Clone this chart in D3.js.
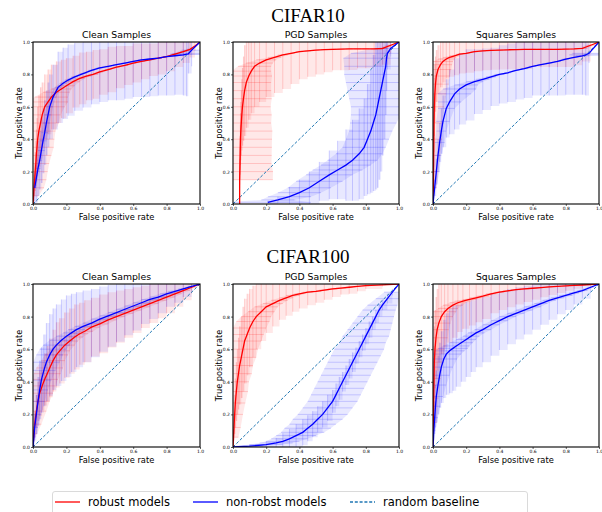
<!DOCTYPE html>
<html><head><meta charset="utf-8">
<script src="https://cdn.jsdelivr.net/npm/d3@7"></script>
<style>body{margin:0;background:#fff} svg{display:block}</style>
</head><body><svg id="c" width="602" height="512"></svg>
<script>
// ---- data: each point is [false positive rate, true positive rate, fpr std, tpr std]
const datasets = ["CIFAR10", "CIFAR100"];
const sampleTypes = ["Clean Samples", "PGD Samples", "Squares Samples"];
const seriesNames = ["robust models", "non-robst models", "random baseline"];
const tickValues = [0.0, 0.2, 0.4, 0.6, 0.8, 1.0];

const cifar10CleanRobust = [
 [0,0,0,0],[0.003,0.05,0.03,0.05],[0.006,0.1,0.06,0.08],[0.01,0.15,0.07,0.1],[0.013,0.2,0.075,0.12],
 [0.017,0.25,0.08,0.14],[0.02,0.3,0.09,0.16],[0.024,0.35,0.1,0.18],[0.028,0.4,0.1,0.2],[0.035,0.45,0.1,0.22],
 [0.045,0.5,0.11,0.22],[0.055,0.55,0.11,0.2],[0.07,0.6,0.12,0.2],[0.09,0.63,0.12,0.2],[0.11,0.66,0.1,0.2],
 [0.14,0.69,0.08,0.19],[0.17,0.71,0.06,0.18],[0.2,0.73,0.05,0.17],[0.24,0.755,0.04,0.16],[0.28,0.775,0.03,0.16],
 [0.32,0.79,0.03,0.15],[0.36,0.8,0.03,0.15],[0.4,0.815,0.02,0.14],[0.45,0.83,0.02,0.14],[0.5,0.845,0.02,0.13],
 [0.55,0.855,0.02,0.12],[0.6,0.87,0.02,0.12],[0.65,0.88,0.02,0.11],[0.7,0.89,0.02,0.1],[0.75,0.9,0.02,0.1],
 [0.8,0.91,0.02,0.09],[0.85,0.925,0.02,0.08],[0.9,0.94,0.02,0.07],[0.94,0.955,0.02,0.05],[0.97,0.975,0.01,0.03],[1,1,0,0]
];
const cifar10CleanNonRobust = [
 [0.01,0.1,0.01,0.1],[0.02,0.16,0.01,0.15],[0.03,0.22,0.015,0.17],[0.04,0.27,0.015,0.18],[0.05,0.33,0.02,0.2],
 [0.06,0.39,0.02,0.2],[0.07,0.44,0.02,0.2],[0.08,0.5,0.02,0.2],[0.09,0.55,0.02,0.2],[0.1,0.6,0.02,0.2],
 [0.12,0.66,0.02,0.2],[0.15,0.72,0.02,0.22],[0.18,0.745,0.02,0.22],[0.21,0.765,0.02,0.22],[0.25,0.785,0.02,0.21],
 [0.3,0.805,0.02,0.21],[0.35,0.825,0.02,0.21],[0.4,0.84,0.02,0.21],[0.45,0.85,0.02,0.21],[0.5,0.86,0.02,0.22],
 [0.55,0.87,0.02,0.22],[0.6,0.88,0.02,0.22],[0.65,0.89,0.02,0.23],[0.7,0.895,0.02,0.23],[0.75,0.9,0.02,0.23],
 [0.8,0.91,0.02,0.24],[0.85,0.915,0.02,0.24],[0.9,0.92,0.02,0.25],[0.92,0.925,0.1,0.26],[0.93,0.926,0.1,0.12],
 [0.95,0.95,0.06,0.1],[1,1,0,0]
];
const cifar10PgdRobust = [
 [0.04,0,0,0],[0.04,0.15,0.2,0.05],[0.041,0.2,0.2,0.08],[0.042,0.25,0.19,0.1],[0.043,0.3,0.19,0.12],
 [0.044,0.35,0.19,0.14],[0.045,0.4,0.19,0.16],[0.047,0.45,0.19,0.18],[0.05,0.5,0.18,0.2],[0.053,0.55,0.18,0.22],
 [0.057,0.6,0.17,0.24],[0.063,0.65,0.17,0.26],[0.07,0.7,0.16,0.28],[0.08,0.75,0.15,0.28],[0.095,0.79,0.14,0.27],
 [0.11,0.82,0.12,0.26],[0.13,0.85,0.1,0.25],[0.16,0.87,0.08,0.24],[0.2,0.89,0.06,0.23],[0.25,0.905,0.04,0.22],
 [0.3,0.92,0.03,0.21],[0.35,0.93,0.02,0.19],[0.4,0.94,0.02,0.17],[0.45,0.945,0.02,0.16],[0.5,0.95,0.02,0.15],
 [0.55,0.953,0.02,0.14],[0.6,0.955,0.02,0.13],[0.65,0.956,0.02,0.13],[0.7,0.957,0.02,0.13],[0.75,0.958,0.02,0.12],
 [0.8,0.958,0.02,0.12],[0.85,0.958,0.02,0.11],[0.9,0.96,0.03,0.1],[0.95,0.98,0.03,0.05],[1,1,0,0]
];
const cifar10PgdNonRobust = [
 [0.21,0.01,0.26,0.01],[0.27,0.025,0.1,0.02],[0.34,0.045,0.13,0.06],[0.4,0.07,0.13,0.08],[0.46,0.1,0.13,0.1],
 [0.52,0.14,0.14,0.12],[0.58,0.18,0.14,0.15],[0.63,0.21,0.15,0.18],[0.68,0.24,0.15,0.22],[0.72,0.27,0.15,0.25],
 [0.76,0.31,0.14,0.28],[0.79,0.35,0.13,0.3],[0.81,0.4,0.13,0.34],[0.83,0.45,0.13,0.38],[0.845,0.5,0.14,0.42],
 [0.86,0.55,0.15,0.46],[0.87,0.6,0.16,0.5],[0.88,0.65,0.18,0.5],[0.89,0.7,0.2,0.5],[0.9,0.75,0.22,0.45],
 [0.91,0.8,0.24,0.4],[0.92,0.85,0.25,0.3],[0.925,0.9,0.26,0.2],[0.93,0.93,0.22,0.1],[0.95,0.96,0.1,0.05],[1,1,0,0]
];
const cifar10SquaresRobust = [
 [0,0,0,0],[0.002,0.1,0.02,0.08],[0.003,0.2,0.03,0.12],[0.004,0.3,0.04,0.15],[0.005,0.4,0.05,0.17],
 [0.006,0.5,0.05,0.18],[0.008,0.6,0.06,0.18],[0.011,0.68,0.07,0.18],[0.015,0.74,0.08,0.17],[0.02,0.79,0.08,0.16],
 [0.03,0.83,0.08,0.15],[0.045,0.86,0.07,0.14],[0.06,0.88,0.06,0.13],[0.08,0.895,0.05,0.12],[0.1,0.905,0.04,0.12],
 [0.13,0.915,0.03,0.12],[0.16,0.925,0.02,0.12],[0.2,0.93,0.02,0.12],[0.25,0.94,0.02,0.12],[0.3,0.945,0.02,0.12],
 [0.35,0.948,0.02,0.12],[0.4,0.95,0.02,0.12],[0.45,0.952,0.02,0.12],[0.5,0.953,0.02,0.12],[0.55,0.954,0.02,0.12],
 [0.6,0.955,0.02,0.11],[0.65,0.955,0.02,0.11],[0.7,0.955,0.02,0.11],[0.75,0.955,0.02,0.11],[0.8,0.956,0.02,0.11],
 [0.85,0.957,0.02,0.1],[0.9,0.96,0.03,0.08],[0.95,0.98,0.03,0.05],[1,1,0,0]
];
const cifar10SquaresNonRobust = [
 [0,0,0,0],[0.01,0.1,0.01,0.05],[0.02,0.2,0.02,0.08],[0.03,0.3,0.02,0.1],[0.04,0.38,0.03,0.12],
 [0.05,0.45,0.03,0.14],[0.06,0.51,0.04,0.16],[0.08,0.59,0.05,0.18],[0.1,0.63,0.07,0.2],[0.13,0.68,0.1,0.22],
 [0.16,0.71,0.1,0.22],[0.2,0.735,0.07,0.22],[0.25,0.755,0.05,0.2],[0.3,0.77,0.04,0.19],[0.35,0.785,0.03,0.18],
 [0.4,0.8,0.03,0.18],[0.45,0.81,0.02,0.18],[0.5,0.825,0.02,0.18],[0.55,0.835,0.02,0.18],[0.6,0.85,0.02,0.18],
 [0.65,0.86,0.02,0.19],[0.7,0.87,0.02,0.2],[0.75,0.88,0.02,0.21],[0.8,0.895,0.02,0.22],[0.85,0.905,0.02,0.23],
 [0.9,0.915,0.04,0.24],[0.92,0.92,0.1,0.25],[0.94,0.93,0.1,0.06],[1,1,0,0]
];
const cifar100CleanRobust = [
 [0,0,0,0],[0.005,0.08,0.02,0.05],[0.01,0.14,0.04,0.08],[0.02,0.22,0.06,0.1],[0.03,0.28,0.07,0.12],
 [0.04,0.33,0.08,0.14],[0.055,0.375,0.08,0.15],[0.07,0.415,0.08,0.16],[0.085,0.45,0.08,0.17],[0.1,0.485,0.08,0.18],
 [0.12,0.53,0.07,0.19],[0.14,0.565,0.07,0.2],[0.16,0.59,0.06,0.2],[0.19,0.625,0.06,0.2],[0.22,0.65,0.05,0.2],
 [0.25,0.675,0.05,0.2],[0.28,0.695,0.05,0.19],[0.31,0.71,0.05,0.19],[0.35,0.735,0.05,0.18],[0.4,0.755,0.05,0.18],
 [0.45,0.78,0.05,0.17],[0.5,0.8,0.05,0.16],[0.55,0.82,0.05,0.15],[0.6,0.84,0.05,0.14],[0.65,0.86,0.05,0.13],
 [0.7,0.88,0.05,0.12],[0.75,0.9,0.05,0.11],[0.8,0.92,0.05,0.1],[0.85,0.94,0.04,0.08],[0.9,0.96,0.04,0.06],
 [0.95,0.98,0.03,0.04],[1,1,0,0]
];
const cifar100CleanNonRobust = [
 [0,0,0,0],[0.005,0.06,0.01,0.05],[0.01,0.12,0.02,0.08],[0.02,0.2,0.03,0.12],[0.03,0.28,0.04,0.15],
 [0.04,0.35,0.05,0.18],[0.05,0.41,0.06,0.2],[0.065,0.47,0.07,0.22],[0.08,0.52,0.08,0.24],[0.1,0.565,0.08,0.25],
 [0.12,0.6,0.08,0.25],[0.14,0.625,0.08,0.25],[0.17,0.655,0.07,0.25],[0.2,0.68,0.06,0.25],[0.23,0.7,0.05,0.24],
 [0.26,0.72,0.05,0.23],[0.3,0.74,0.05,0.22],[0.35,0.76,0.05,0.21],[0.4,0.785,0.05,0.2],[0.45,0.805,0.05,0.19],
 [0.5,0.825,0.05,0.18],[0.55,0.845,0.05,0.16],[0.6,0.865,0.05,0.15],[0.65,0.885,0.05,0.13],[0.7,0.905,0.05,0.12],
 [0.75,0.92,0.05,0.1],[0.8,0.94,0.04,0.08],[0.85,0.955,0.04,0.07],[0.9,0.97,0.03,0.05],[0.95,0.985,0.02,0.03],[1,1,0,0]
];
const cifar100PgdRobust = [
 [0,0,0,0],[0.003,0.06,0.03,0.05],[0.006,0.12,0.04,0.08],[0.01,0.2,0.05,0.12],[0.014,0.27,0.06,0.15],
 [0.02,0.34,0.07,0.18],[0.026,0.4,0.07,0.2],[0.033,0.45,0.08,0.22],[0.04,0.5,0.08,0.24],[0.05,0.55,0.09,0.25],
 [0.06,0.6,0.09,0.26],[0.07,0.65,0.1,0.26],[0.085,0.69,0.1,0.25],[0.1,0.73,0.1,0.24],[0.12,0.77,0.1,0.22],
 [0.14,0.8,0.09,0.2],[0.17,0.83,0.08,0.18],[0.2,0.86,0.07,0.16],[0.24,0.88,0.06,0.14],[0.28,0.9,0.05,0.12],
 [0.32,0.915,0.04,0.11],[0.36,0.93,0.04,0.1],[0.4,0.94,0.03,0.09],[0.45,0.95,0.03,0.08],[0.5,0.955,0.03,0.07],
 [0.55,0.963,0.03,0.06],[0.6,0.97,0.03,0.05],[0.65,0.975,0.03,0.04],[0.7,0.98,0.02,0.04],[0.75,0.985,0.02,0.03],
 [0.8,0.99,0.02,0.02],[0.9,0.995,0.02,0.01],[1,1,0,0]
];
const cifar100PgdNonRobust = [
 [0,0,0,0],[0.1,0.005,0.08,0.01],[0.2,0.015,0.1,0.02],[0.26,0.025,0.1,0.03],[0.3,0.035,0.1,0.05],
 [0.34,0.05,0.11,0.06],[0.38,0.07,0.12,0.07],[0.42,0.09,0.13,0.08],[0.45,0.115,0.14,0.08],[0.48,0.14,0.14,0.08],
 [0.51,0.17,0.15,0.08],[0.54,0.2,0.15,0.08],[0.57,0.24,0.15,0.08],[0.6,0.28,0.15,0.07],[0.62,0.32,0.15,0.07],
 [0.64,0.36,0.15,0.07],[0.66,0.4,0.15,0.06],[0.68,0.44,0.15,0.06],[0.7,0.48,0.15,0.06],[0.72,0.52,0.15,0.06],
 [0.74,0.56,0.15,0.05],[0.76,0.6,0.15,0.05],[0.78,0.64,0.14,0.05],[0.8,0.68,0.14,0.05],[0.82,0.72,0.13,0.05],
 [0.84,0.76,0.12,0.04],[0.86,0.8,0.11,0.04],[0.88,0.84,0.1,0.04],[0.9,0.87,0.09,0.03],[0.93,0.91,0.07,0.03],
 [0.96,0.95,0.05,0.02],[1,1,0,0]
];
const cifar100SquaresRobust = [
 [0,0,0,0],[0.002,0.15,0.02,0.1],[0.004,0.3,0.03,0.15],[0.006,0.42,0.04,0.2],[0.008,0.52,0.05,0.22],
 [0.012,0.6,0.06,0.24],[0.018,0.67,0.07,0.25],[0.025,0.72,0.07,0.25],[0.035,0.76,0.07,0.24],[0.05,0.8,0.07,0.23],
 [0.07,0.83,0.07,0.22],[0.09,0.85,0.06,0.21],[0.12,0.87,0.06,0.2],[0.15,0.885,0.05,0.18],[0.18,0.895,0.05,0.17],
 [0.22,0.905,0.04,0.16],[0.26,0.915,0.04,0.15],[0.3,0.925,0.04,0.14],[0.35,0.94,0.03,0.12],[0.4,0.95,0.03,0.11],
 [0.45,0.958,0.03,0.1],[0.5,0.965,0.03,0.09],[0.55,0.97,0.03,0.08],[0.6,0.974,0.03,0.07],[0.65,0.978,0.02,0.06],
 [0.7,0.982,0.02,0.05],[0.75,0.985,0.02,0.04],[0.8,0.988,0.02,0.03],[0.85,0.991,0.02,0.02],[0.9,0.994,0.02,0.02],[1,1,0,0]
];
const cifar100SquaresNonRobust = [
 [0,0,0,0],[0.005,0.1,0.01,0.06],[0.01,0.18,0.02,0.1],[0.015,0.25,0.03,0.13],[0.02,0.31,0.04,0.16],
 [0.03,0.38,0.05,0.18],[0.04,0.44,0.06,0.2],[0.05,0.49,0.07,0.22],[0.065,0.54,0.08,0.24],[0.08,0.57,0.09,0.25],
 [0.1,0.59,0.09,0.26],[0.12,0.605,0.09,0.26],[0.14,0.62,0.08,0.25],[0.17,0.64,0.07,0.24],[0.2,0.66,0.06,0.23],
 [0.23,0.68,0.05,0.22],[0.26,0.7,0.05,0.21],[0.3,0.72,0.05,0.2],[0.35,0.75,0.05,0.19],[0.4,0.775,0.05,0.18],
 [0.45,0.8,0.05,0.17],[0.5,0.82,0.05,0.16],[0.55,0.84,0.05,0.15],[0.6,0.86,0.05,0.14],[0.65,0.88,0.04,0.13],
 [0.7,0.9,0.04,0.12],[0.75,0.915,0.04,0.1],[0.8,0.93,0.04,0.09],[0.85,0.945,0.03,0.07],[0.9,0.96,0.03,0.05],
 [0.95,0.98,0.02,0.03],[1,1,0,0]
];
const baseline = [[0,0],[1,1]];

const robustByPanel = [[cifar10CleanRobust, cifar10PgdRobust, cifar10SquaresRobust],
                       [cifar100CleanRobust, cifar100PgdRobust, cifar100SquaresRobust]];
const nonRobustByPanel = [[cifar10CleanNonRobust, cifar10PgdNonRobust, cifar10SquaresNonRobust],
                          [cifar100CleanNonRobust, cifar100PgdNonRobust, cifar100SquaresNonRobust]];

// ---- layout
const svg = d3.select("#c");
const colX = [[33,200],[233,399],[433,599]];
const rowY = [[42,204],[284,447]];
const supTitleY = [22, 263];
const RED = "#ff0000", BLUE = "#0000ff", BASE = "#1f77b4";
const SANS = "'DejaVu Sans',sans-serif";

datasets.forEach((ds, r) => {
  svg.append("text").attr("x", 308).attr("y", supTitleY[r]).attr("text-anchor","middle")
    .attr("font-family","'Liberation Serif','DejaVu Serif',serif").attr("font-size",19).text(ds);
  sampleTypes.forEach((st, c) => {
    const [x0,x1] = colX[c], [y0,y1] = rowY[r];
    const x = d3.scaleLinear().domain([0,1]).range([x0,x1]);
    const y = d3.scaleLinear().domain([0,1]).range([y1,y0]);
    const id = `clip${r}${c}`;
    svg.append("clipPath").attr("id", id).append("rect")
      .attr("x", x0).attr("y", y0).attr("width", x1-x0).attr("height", y1-y0);
    const g = svg.append("g").attr("clip-path", `url(#${id})`);
    const drawErr = (data, color) => {
      // union of the vertical and of the horizontal error bars
      const vArea = d3.area().defined(d => d[3] > 0).x(d => x(d[0]))
        .y0(d => y(d[1]-d[3])).y1(d => y(d[1]+d[3])).curve(d3.curveStepAfter);
      const hArea = d3.area().defined(d => d[2] > 0).y(d => y(d[1]))
        .x0(d => x(d[0]-d[2])).x1(d => x(d[0]+d[2])).curve(d3.curveLinear);
      g.append("path").attr("d", vArea(data)).attr("fill", color).attr("fill-opacity", 0.09);
      g.append("path").attr("d", hArea(data)).attr("fill", color).attr("fill-opacity", 0.09);
      const eg = g.append("g").attr("stroke", color).attr("stroke-opacity", 0.17).attr("stroke-width", 1);
      data.filter(d => d[2] > 0).forEach(d => {
        eg.append("line").attr("x1", x(d[0]-d[2])).attr("x2", x(d[0]+d[2])).attr("y1", y(d[1])).attr("y2", y(d[1]));
      });
      data.filter(d => d[3] > 0).forEach(d => {
        eg.append("line").attr("x1", x(d[0])).attr("x2", x(d[0])).attr("y1", y(d[1]-d[3])).attr("y2", y(d[1]+d[3]));
      });
    };
    const rob = robustByPanel[r][c], non = nonRobustByPanel[r][c];
    drawErr(rob, RED);
    drawErr(non, BLUE);
    const line = d3.line().x(d => x(d[0])).y(d => y(d[1]));
    g.append("path").datum(baseline).attr("d", line).attr("fill","none").attr("stroke", BASE)
      .attr("stroke-width", 1).attr("stroke-dasharray","3,1.8");
    g.append("path").datum(rob).attr("d", line).attr("fill","none").attr("stroke", RED).attr("stroke-width", 1.3);
    g.append("path").datum(non).attr("d", line).attr("fill","none").attr("stroke", BLUE).attr("stroke-width", 1.3);

    // axes
    const ax = svg.append("g").attr("transform", `translate(0,${y1})`)
      .call(d3.axisBottom(x).tickValues(tickValues).tickFormat(d3.format(".1f")).tickSize(2).tickPadding(1));
    const ay = svg.append("g").attr("transform", `translate(${x0},0)`)
      .call(d3.axisLeft(y).tickValues(tickValues).tickFormat(d3.format(".1f")).tickSize(2).tickPadding(1));
    [ax, ay].forEach(a => {
      a.select(".domain").remove();
      a.selectAll("text").attr("font-size", 4.5).attr("font-family", SANS).attr("fill","#000");
      a.selectAll("line").attr("stroke","#000").attr("stroke-width",0.6);
    });
    svg.append("rect").attr("x", x0).attr("y", y0).attr("width", x1-x0).attr("height", y1-y0)
      .attr("fill","none").attr("stroke","#000").attr("stroke-width",1.1);
    svg.append("text").attr("x",(x0+x1)/2).attr("y", y0-4).attr("text-anchor","middle")
      .attr("font-family", SANS).attr("font-size",9.3).text(st);
    svg.append("text").attr("x",(x0+x1)/2).attr("y", y1+15.5).attr("text-anchor","middle")
      .attr("font-family", SANS).attr("font-size",8.3).text("False positive rate");
    svg.append("text").attr("transform",`translate(${x0-11.5},${(y0+y1)/2}) rotate(-90)`).attr("text-anchor","middle")
      .attr("font-family", SANS).attr("font-size",8.2).text("True positive rate");
  });
});

// ---- legend
const lg = svg.append("g");
lg.append("rect").attr("x",52.5).attr("y",491.5).attr("width",475).attr("height",30).attr("rx",2.5)
  .attr("fill","#fff").attr("stroke","#d0d0d0").attr("stroke-width",0.8);
const legendItems = [
  {name: seriesNames[0], color: RED, dash: null, lx: 55},
  {name: seriesNames[1], color: BLUE, dash: null, lx: 193},
  {name: seriesNames[2], color: BASE, dash: "3,1.8", lx: 350}
];
legendItems.forEach(it => {
  lg.append("line").attr("x1", it.lx).attr("x2", it.lx+25).attr("y1",502).attr("y2",502)
    .attr("stroke", it.color).attr("stroke-width",1.3).attr("stroke-dasharray", it.dash);
  lg.append("text").attr("x", it.lx+33).attr("y", 506).attr("font-family", SANS)
    .attr("font-size",11.5).text(it.name);
});
</script></body></html>
